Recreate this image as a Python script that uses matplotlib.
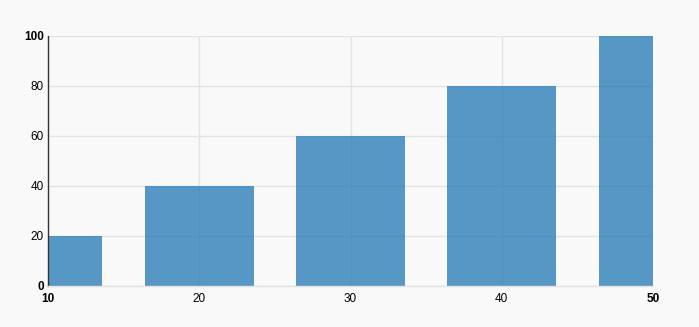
import matplotlib.pyplot as plt
import numpy as np

plt.rcParams['font.family'] = ['Liberation Sans', 'DejaVu Sans']

# chart data
x_values = [10, 20, 30, 40, 50]
y_values = [20, 40, 60, 80, 100]
x_ticks = [10, 20, 30, 40, 50]
y_ticks = [0, 20, 40, 60, 80, 100]

bg = '#f9f9f9'
fig = plt.figure(figsize=(6.99, 3.27), dpi=100, facecolor=bg)
ax = fig.add_axes([48 / 699, 1 - 286 / 327, (653 - 48) / 699, (286 - 36) / 327])
ax.set_facecolor(bg)

ax.bar(x_values, y_values, width=7.2, color='#1f77b4', alpha=0.75, zorder=2)

ax.set_xlim(10, 50)
ax.set_ylim(0, 100)
ax.set_xticks(x_ticks)
ax.set_yticks(y_ticks)
ax.set_xticklabels([str(v) for v in x_ticks])
ax.set_yticklabels([str(v) for v in y_ticks])

ax.grid(True, color='#e3e3e3', linewidth=1, zorder=1)
ax.set_axisbelow(True)

ax.tick_params(axis='both', length=0, labelsize=8.5, colors='#000000')
ax.tick_params(axis='x', pad=5)
ax.tick_params(axis='y', pad=3)

# first and last tick labels are bold
for lbls in (ax.get_xticklabels(), ax.get_yticklabels()):
    lbls[0].set_fontweight('bold')
    lbls[-1].set_fontweight('bold')

for side in ['top', 'right']:
    ax.spines[side].set_visible(False)
ax.spines['left'].set_color('#333333')
ax.spines['left'].set_linewidth(1)
ax.spines['bottom'].set_color('#e3e3e3')
ax.spines['bottom'].set_linewidth(1)

plt.savefig('out.png', dpi=100, facecolor=bg)
plt.close('all')
